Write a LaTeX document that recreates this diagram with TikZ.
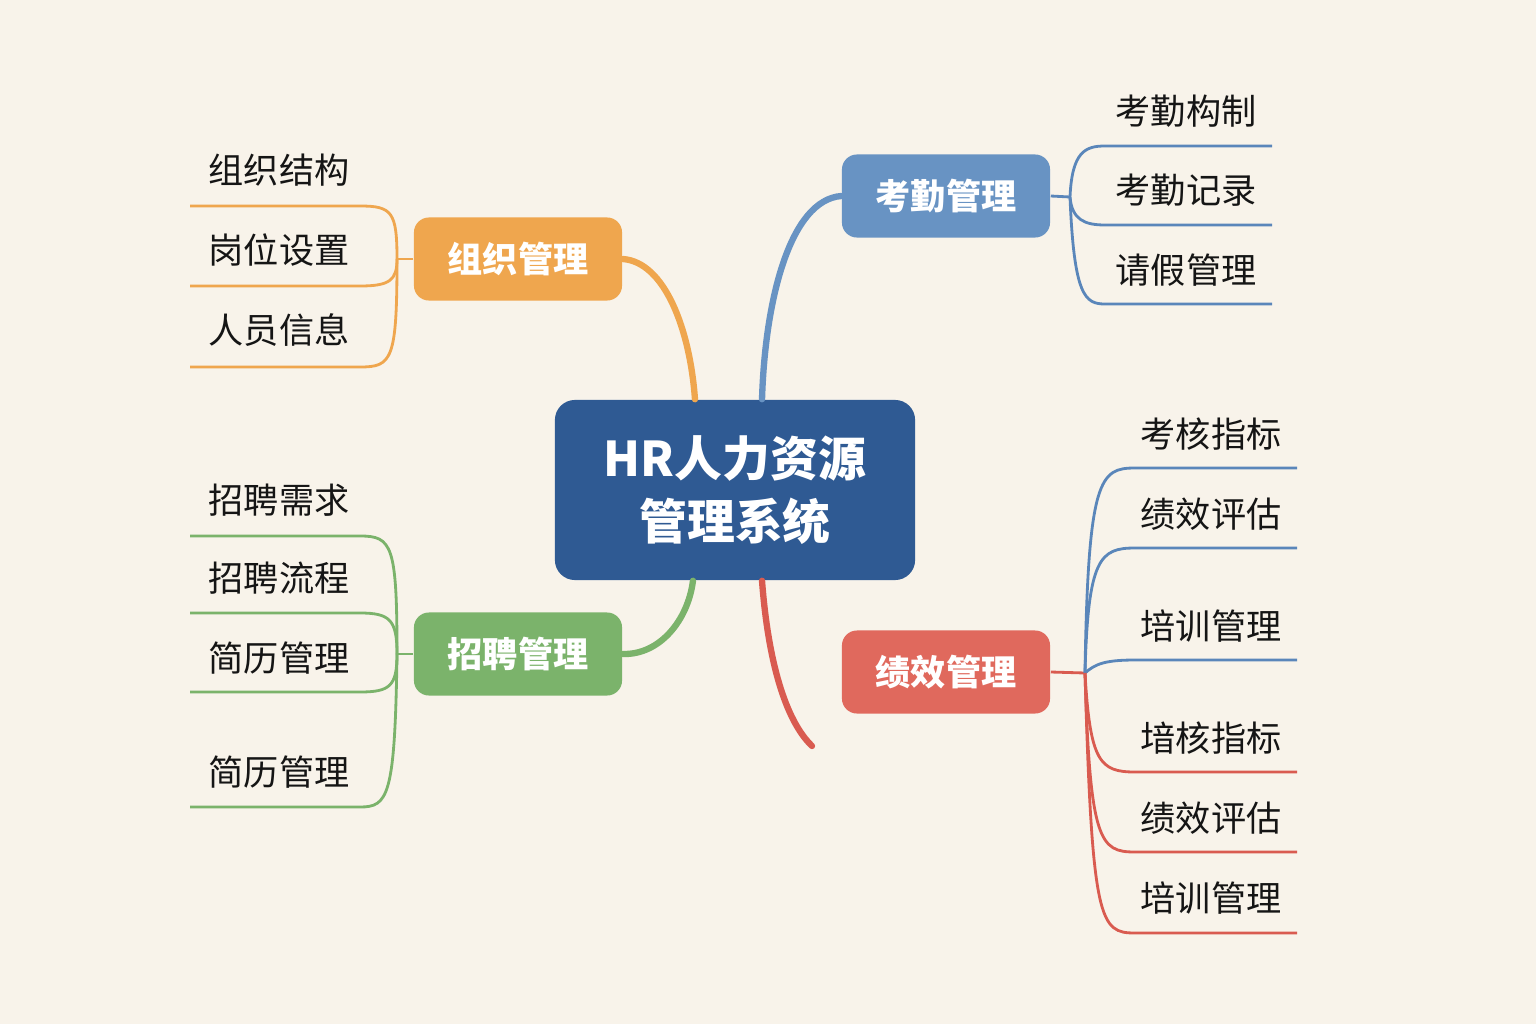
\documentclass[tikz,border=0pt]{standalone}
\usepackage{fontspec}
\setmainfont{Noto Sans CJK SC}
\usetikzlibrary{calc}
\definecolor{bgcream}{HTML}{F8F3EA}
\definecolor{hrblue}{HTML}{2F5A93}
\definecolor{orgorange}{HTML}{EFA64E}
\definecolor{attblue}{HTML}{6893C3}
\definecolor{recgreen}{HTML}{7BB36B}
\definecolor{perfred}{HTML}{E0695D}
\definecolor{twigblue}{HTML}{5A86BA}
\definecolor{twigred}{HTML}{D95B50}
\definecolor{leaftext}{HTML}{151515}

\begin{document}
\begin{tikzpicture}[x=0.01cm, y=-0.01cm,
    branch/.style={fill=#1, rounded corners=0.15cm, minimum width=2.08cm,
        minimum height=0.83cm, text=white, font=\fontsize{10}{12}\selectfont\bfseries},
    leaf/.style={anchor=west, text=leaftext, inner sep=0pt,
        font=\fontsize{10}{12}\selectfont},
    twig/.style={draw=#1, line width=0.8pt},
    stem/.style={draw=#1, line width=1.8pt, line cap=round}]

    % Background
    \fill[bgcream] (0,0) rectangle (1536,1024);
    \useasboundingbox (0,0) rectangle (1536,1024);

    % Central topic
    \node[fill=hrblue, rounded corners=0.2cm, minimum width=3.6cm, minimum height=1.8cm,
        text=white, align=center, font=\fontsize{13.6}{18}\selectfont\bfseries]
        (hr) at (735,490) {HR人力资源\\管理系统};

    % Main branches
    \node[branch=orgorange] (org) at (518,259) {组织管理};
    \node[branch=attblue] (att) at (946,196) {考勤管理};
    \node[branch=recgreen] (rec) at (518,654) {招聘管理};
    \node[branch=perfred] (perf) at (946,672) {绩效管理};

    % Stems from the centre
    \draw[stem=orgorange] (org.east) .. controls (665,262) and (690,330) .. ([xshift=-0.4cm]hr.north);
    \draw[stem=attblue] (att.west) .. controls (790,200) and (765,300) .. ([xshift=0.27cm]hr.north);
    \draw[stem=recgreen] (rec.east) .. controls (660,655) and (688,620) .. ([xshift=-0.42cm]hr.south);
    \coordinate (redtip) at (812,746);
    \draw[stem=twigred] ([xshift=0.27cm]hr.south) .. controls (768,660) and (785,720) .. (redtip);

    % Organisation leaves
    \coordinate (orghub) at (397,259);
    \draw[twig=orgorange] (org.west) -- (orghub);
    \draw[twig=orgorange] (orghub) .. controls (397,212) and (392,206) .. (360,206) -- (190,206);
    \draw[twig=orgorange] (orghub) .. controls (397,280) and (390,286) .. (360,286) -- (190,286);
    \draw[twig=orgorange] (orghub) .. controls (397,360) and (392,367) .. (360,367) -- (190,367);
    \node[leaf] (org1) at (208,170) {组织结构};
    \node[leaf] (org2) at (208,250) {岗位设置};
    \node[leaf] (org3) at (208,330) {人员信息};

    % Attendance leaves
    \coordinate (atthub) at (1070,197);
    \draw[twig=twigblue] (att.east) -- (atthub);
    \draw[twig=twigblue] (atthub) .. controls (1072,152) and (1085,146) .. (1105,146) -- (1272,146);
    \draw[twig=twigblue] (atthub) .. controls (1072,220) and (1085,225) .. (1105,225) -- (1272,225);
    \draw[twig=twigblue] (atthub) .. controls (1074,296) and (1085,304) .. (1105,304) -- (1272,304);
    \node[leaf] (att1) at (1115,111) {考勤构制};
    \node[leaf] (att2) at (1115,190) {考勤记录};
    \node[leaf] (att3) at (1115,270) {请假管理};

    % Recruitment leaves
    \coordinate (rechub) at (397,654);
    \draw[twig=recgreen] (rec.west) -- (rechub);
    \draw[twig=recgreen] (rechub) .. controls (397,545) and (392,536) .. (360,536) -- (190,536);
    \draw[twig=recgreen] (rechub) .. controls (397,620) and (390,613) .. (360,613) -- (190,613);
    \draw[twig=recgreen] (rechub) .. controls (397,686) and (390,692) .. (360,692) -- (190,692);
    \draw[twig=recgreen] (rechub) .. controls (395,797) and (388,807) .. (360,807) -- (190,807);
    \node[leaf] (rec1) at (208,500) {招聘需求};
    \node[leaf] (rec2) at (208,578) {招聘流程};
    \node[leaf] (rec3) at (208,658) {简历管理};
    \node[leaf] (rec4) at (208,772) {简历管理};

    % Performance leaves
    \coordinate (perfhub) at (1085,673);
    \draw[twig=twigred] (perf.east) -- (perfhub);
    \draw[twig=twigblue] (perfhub) .. controls (1088,478) and (1100,468) .. (1135,468) -- (1297,468);
    \draw[twig=twigblue] (perfhub) .. controls (1088,558) and (1100,548) .. (1135,548) -- (1297,548);
    \draw[twig=twigblue] (perfhub) .. controls (1095,664) and (1105,660) .. (1135,660) -- (1297,660);
    \draw[twig=twigred] (perfhub) .. controls (1090,762) and (1100,772) .. (1135,772) -- (1297,772);
    \draw[twig=twigred] (perfhub) .. controls (1090,842) and (1100,852) .. (1135,852) -- (1297,852);
    \draw[twig=twigred] (perfhub) .. controls (1092,923) and (1100,933) .. (1135,933) -- (1297,933);
    \node[leaf] (perf1) at (1140,434) {考核指标};
    \node[leaf] (perf2) at (1140,514) {绩效评估};
    \node[leaf] (perf3) at (1140,626) {培训管理};
    \node[leaf] (perf4) at (1140,738) {堷核指标};
    \node[leaf] (perf5) at (1140,818) {绩效评估};
    \node[leaf] (perf6) at (1140,898) {培训管理};
\end{tikzpicture}
\end{document}
